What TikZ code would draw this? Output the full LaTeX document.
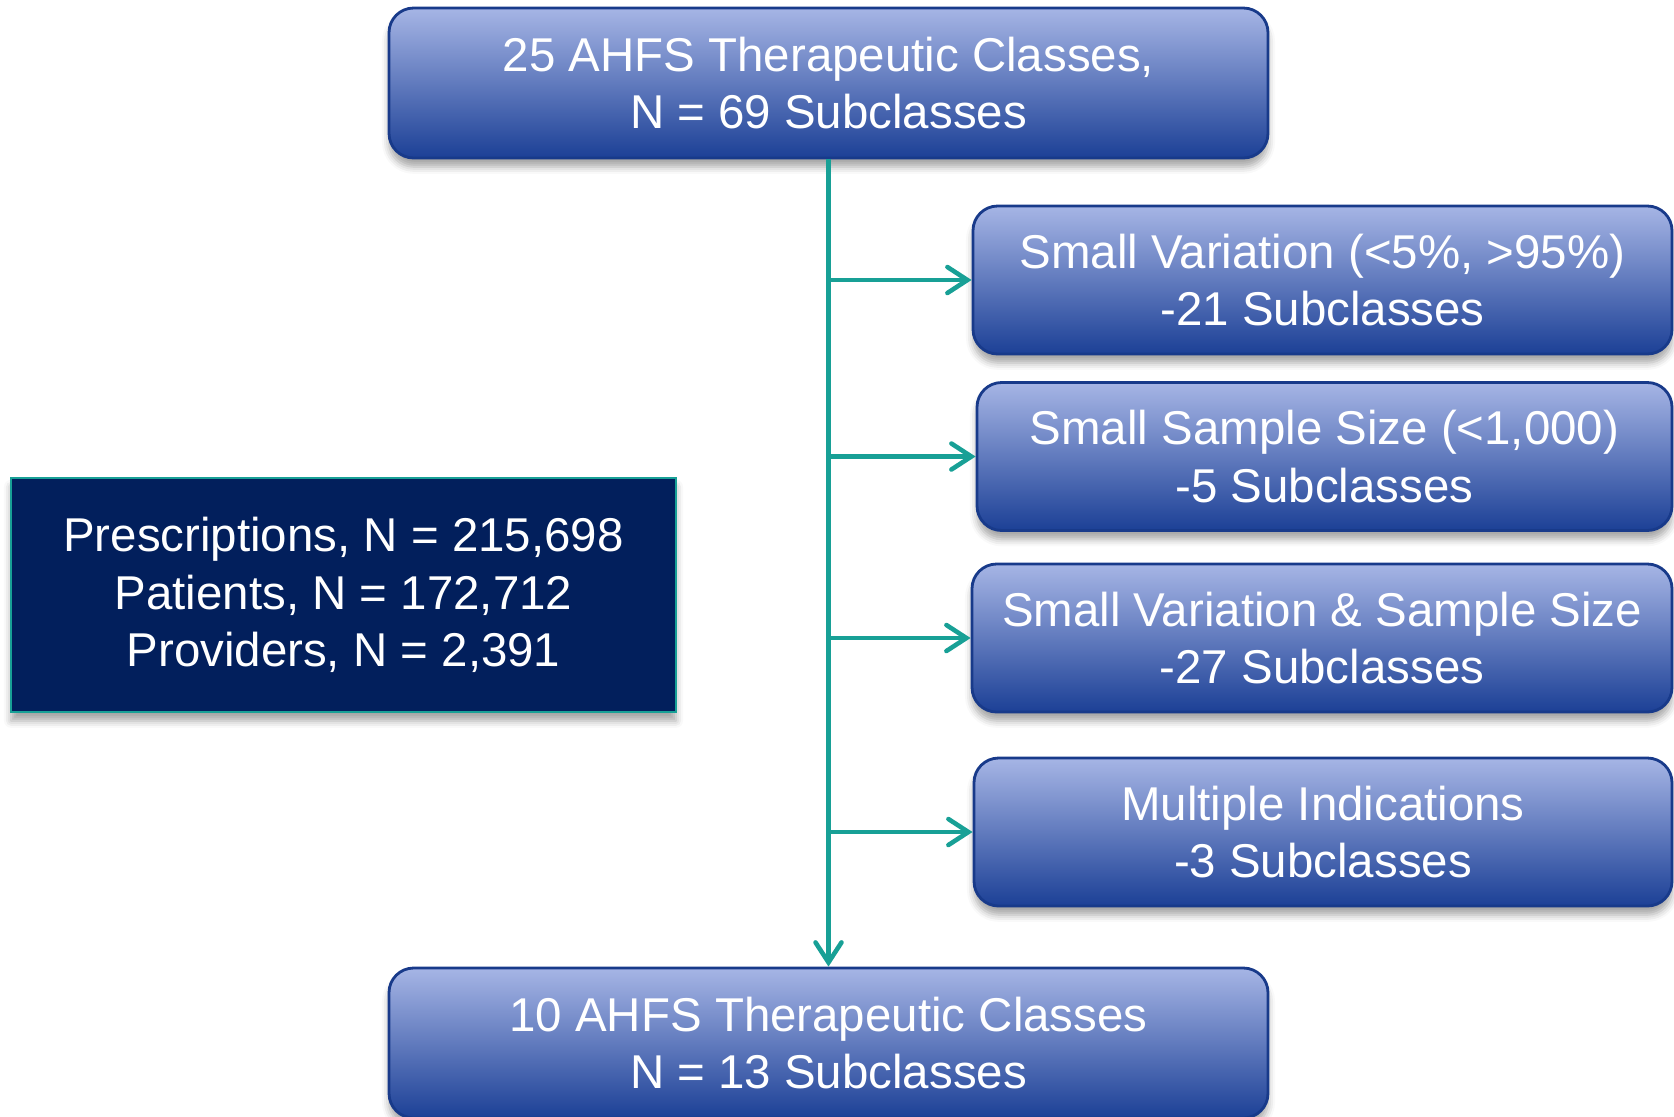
\documentclass[tikz,border=0pt]{standalone}
\usepackage{fontspec}
\setmainfont{Liberation Sans}
\usetikzlibrary{arrows.meta, shadows.blur}

\definecolor{boxtop}{RGB}{166,181,229}
\definecolor{boxmid}{RGB}{104,126,194}
\definecolor{boxbot}{RGB}{28,64,150}
\definecolor{boxline}{RGB}{24,58,138}
\definecolor{navy}{RGB}{2,31,92}
\definecolor{flowteal}{RGB}{24,160,150}

\begin{document}
\begin{tikzpicture}[
    classbox/.style={rectangle, draw=boxline, line width=0.8pt, rounded corners=7pt,
                     top color=boxtop, middle color=boxmid, bottom color=boxbot,
                     text=white, align=center, font=\fontsize{13.5}{16.4}\selectfont,
                     blur shadow={shadow xshift=0pt, shadow yshift=-2.5pt,
                                  shadow blur radius=2pt, shadow opacity=35}},
    countbox/.style={rectangle, draw=flowteal, line width=0.8pt, fill=navy,
                     text=white, align=center, font=\fontsize{13.5}{16.4}\selectfont,
                     blur shadow={shadow xshift=0pt, shadow yshift=-2.5pt,
                                  shadow blur radius=2pt, shadow opacity=35}},
    arr/.style={-{Straight Barb[length=2mm, width=2.6mm, line cap=round]},
                flowteal, line width=1.3pt}
]
\useasboundingbox (0,0) rectangle (16.74,-11.16);

% main flow
\node[classbox, minimum width=8.79cm, minimum height=1.5cm] (start) at (8.285,-0.83)
    {25 AHFS Therapeutic Classes,\\N = 69 Subclasses};
\node[classbox, minimum width=8.79cm, minimum height=1.5cm] (final) at (8.285,-10.43)
    {10 AHFS Therapeutic Classes\\N = 13 Subclasses};

% exclusions
\node[classbox, minimum width=6.99cm, minimum height=1.48cm] (var)   at (13.225,-2.80)
    {Small Variation (<5\%, >95\%)\\-21 Subclasses};
\node[classbox, minimum width=6.95cm, minimum height=1.48cm] (size)  at (13.245,-4.565)
    {Small Sample Size (<1,000)\\-5 Subclasses};
\node[classbox, minimum width=7.00cm, minimum height=1.48cm] (both)  at (13.22,-6.38)
    {Small Variation \& Sample Size\\-27 Subclasses};
\node[classbox, minimum width=6.98cm, minimum height=1.48cm] (multi) at (13.23,-8.32)
    {Multiple Indications\\-3 Subclasses};

% data counts
\node[countbox, minimum width=6.65cm, minimum height=2.34cm] (counts) at (3.435,-5.95)
    {Prescriptions, N = 215,698\\Patients, N = 172,712\\Providers, N = 2,391};

\draw[arr] (start.south) -- (final.north);
\foreach \b in {var, size, both, multi}
    \draw[arr] (start.south |- \b.west) -- (\b.west);
\end{tikzpicture}
\end{document}
